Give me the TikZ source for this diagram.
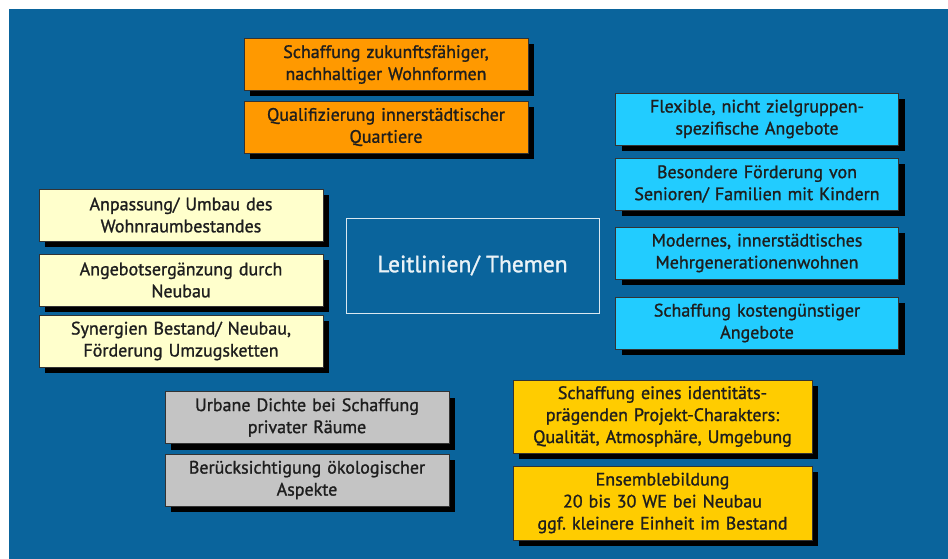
\documentclass[tikz,border=0pt]{standalone}
\usepackage{fontspec}
\setmainfont{PT Sans}[FakeBold=1.2]
\usepackage{tikz}
\usetikzlibrary{shadows}
\definecolor{bgblue}{RGB}{10,100,156}
\definecolor{boxorange}{RGB}{255,153,0}
\definecolor{boxcyan}{RGB}{34,204,255}
\definecolor{boxcream}{RGB}{255,255,204}
\definecolor{boxgray}{RGB}{196,196,196}
\definecolor{boxgold}{RGB}{255,204,0}
\definecolor{boxtext}{RGB}{30,30,30}
\def\orangebox{\node[themebox,fill=boxorange]}
\def\cyanbox{\node[themebox,fill=boxcyan]}
\def\creambox{\node[themebox,fill=boxcream]}
\def\graybox{\node[themebox,fill=boxgray]}
\def\goldbox{\node[themebox,fill=boxgold,minimum width=299pt,text width=295pt]}

\begin{document}
\begin{tikzpicture}[x=1pt,y=-1pt,
  themebox/.style={draw=black!80,line width=0.6pt,minimum width=284pt,minimum height=52pt,
    text width=280pt,align=center,inner sep=0pt,text=boxtext,
    font=\fontsize{18}{22}\selectfont\frenchspacing,
    drop shadow={shadow xshift=6pt,shadow yshift=-6pt,fill=black,opacity=1}},
  centerbox/.style={draw=white!85!bgblue,line width=0.8pt,minimum width=253pt,minimum height=95pt,
    inner sep=0pt,text=white!92!bgblue,font=\fontsize{23.5}{27}\selectfont}]
\useasboundingbox (0,0) rectangle (948,559);
\fill[bgblue] (9,9) rectangle (948,559);
% Mitte
\node[centerbox] (mitte) at (472.5,265.5) {Leitlinien/ Themen};
% oben
\orangebox (wohnformen) at (386,64.5) {Schaffung zukunftsfähiger,\\ nachhaltiger Wohnformen};
\orangebox (quartiere) at (386,127) {Qualifizierung innerstädtischer\\ Quartiere};
% rechts
\cyanbox[minimum width=283pt] (flexibel) at (757,119) {Flexible, nicht zielgruppen-\\ spezifische Angebote};
\cyanbox[minimum width=283pt] (senioren) at (757,184) {Besondere Förderung von\\ Senioren/ Familien mit Kindern};
\cyanbox[minimum width=283pt] (mehrgen) at (757,253) {Modernes, innerstädtisches\\ Mehrgenerationenwohnen};
\cyanbox[minimum width=283pt] (kosten) at (757,323) {Schaffung kostengünstiger\\ Angebote};
% links
\creambox (umbau) at (181,215) {Anpassung/ Umbau des\\ Wohnraumbestandes};
\creambox (neubau) at (181,280) {Angebotsergänzung durch\\ Neubau};
\creambox (synergien) at (181,341) {Synergien Bestand/ Neubau,\\ Förderung Umzugsketten};
% unten
\graybox (dichte) at (307,417.5) {Urbane Dichte bei Schaffung\\ privater Räume};
\graybox (oekologie) at (307,480) {Berücksichtigung ökologischer\\ Aspekte};
\goldbox[minimum height=73pt] (identitaet) at (662.5,416.5) {Schaffung eines identitäts-\\ prägenden Projekt-Charakters:\\ Qualität, Atmosphäre, Umgebung};
\goldbox[minimum height=74pt] (ensemble) at (662.5,503) {Ensemblebildung\\ 20 bis 30 WE bei Neubau\\ ggf. kleinere Einheit im Bestand};
\end{tikzpicture}
\end{document}
